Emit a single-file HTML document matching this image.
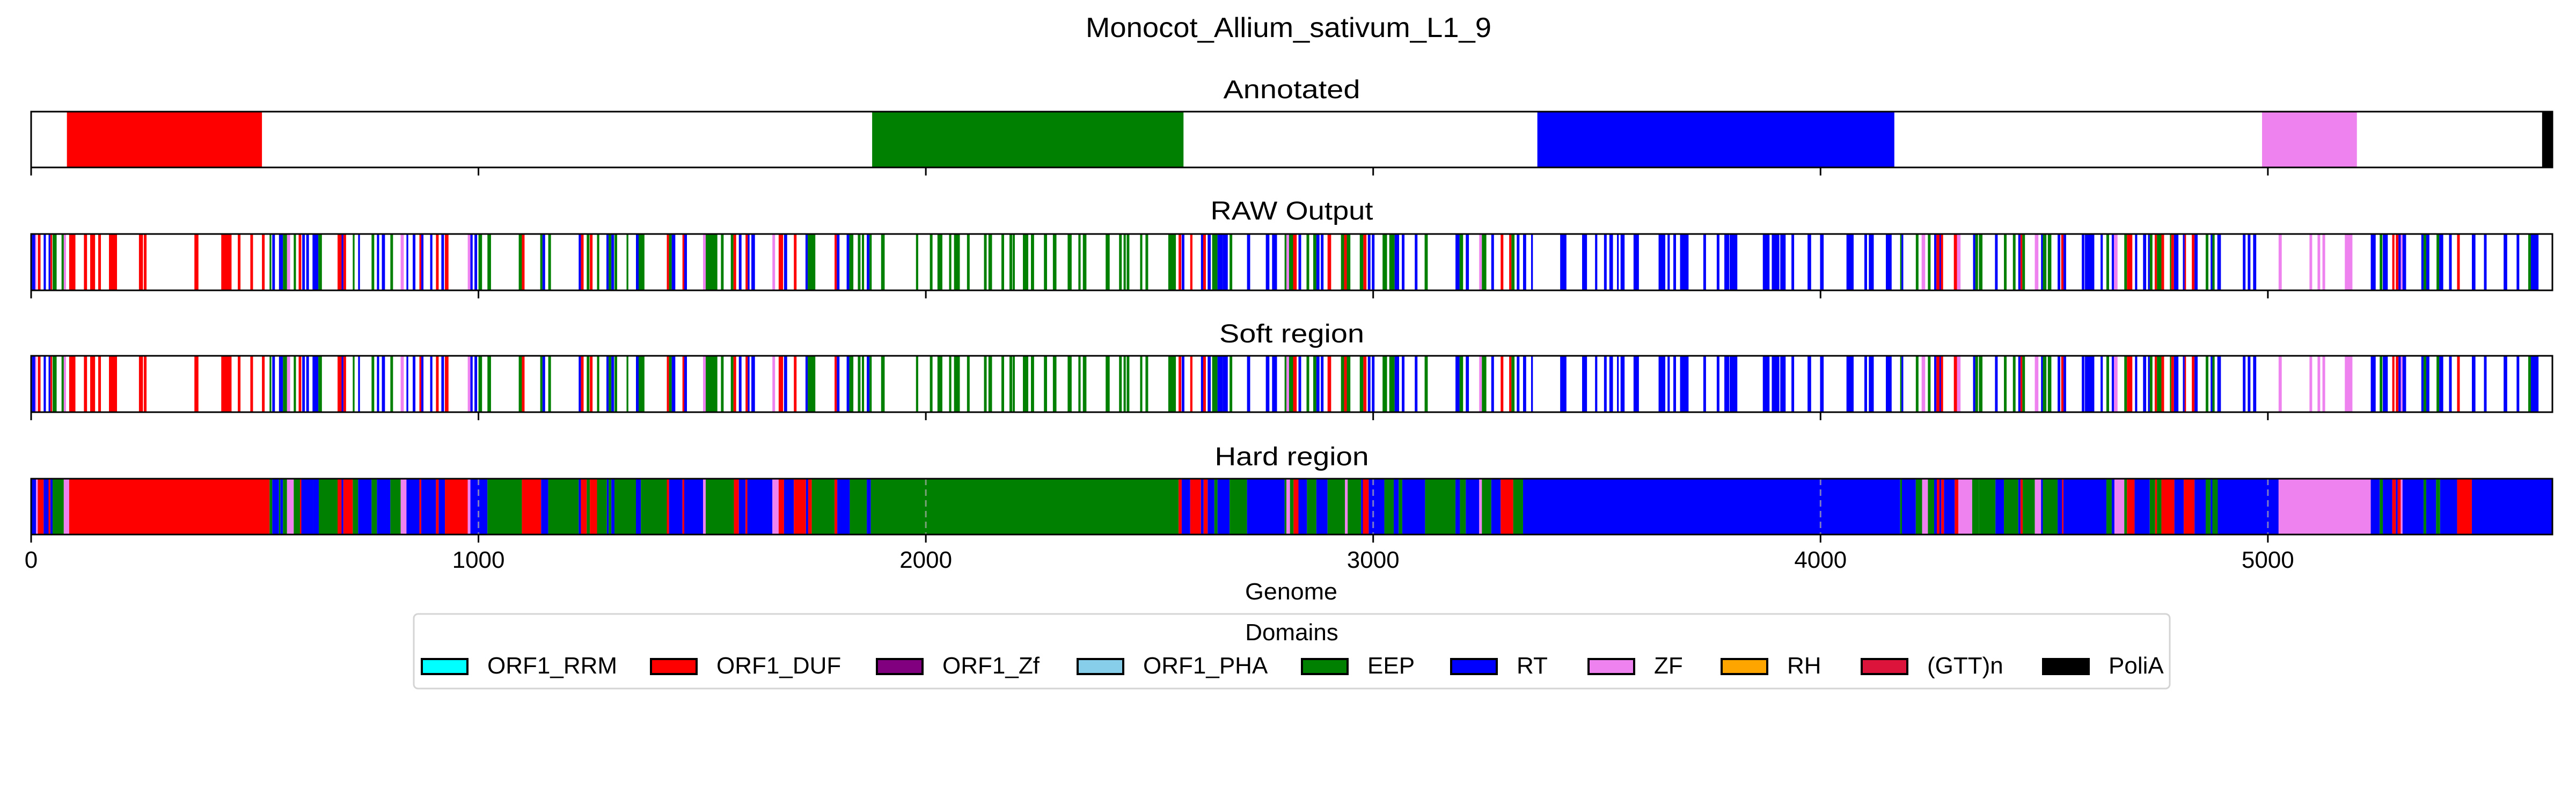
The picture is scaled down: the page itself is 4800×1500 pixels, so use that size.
<!DOCTYPE html>
<html><head><meta charset="utf-8"><title>Monocot_Allium_sativum_L1_9</title>
<style>html,body{margin:0;padding:0;background:#fff}svg{display:block}text{font-family:"Liberation Sans",sans-serif;fill:#000}</style>
</head><body>
<svg id="chart" width="4800" height="1500" viewBox="0 0 4800 1500" xmlns="http://www.w3.org/2000/svg">
<rect width="4800" height="1500" fill="#fff"/>
<text x="2401" y="69" font-size="52" text-anchor="middle" textLength="756" lengthAdjust="spacingAndGlyphs">Monocot_Allium_sativum_L1_9</text>
<g id="plots"></g>
<text x="2406" y="1117" font-size="44" text-anchor="middle" textLength="172" lengthAdjust="spacingAndGlyphs">Genome</text>
<g id="legend"></g>
</svg>
<script>
const domainNames = ["ORF1_RRM","ORF1_DUF","ORF1_Zf","ORF1_PHA","EEP","RT","ZF","RH","(GTT)n","PoliA"];
const domainColors = ["#00ffff","#ff0000","#800080","#87ceeb","#008000","#0000ff","#ee82ee","#ffa500","#dc143c","#000000"];
const xTicks = [0,1000,2000,3000,4000,5000];
const genomeLength = 5636;

const annotatedSegments = [[80,516,"ORF1_DUF"],[1880,2576,"EEP"],[3367,4165,"RT"],[4987,5199,"ZF"],[5613,5636,"PoliA"]];

const rawSegments = [
[2,9,"RT"],[9,12,"ZF"],[15,21,"ORF1_DUF"],[28,33,"RT"],[39,43,"RT"],[43,47,"ORF1_DUF"],[48,57,"EEP"],[68,73,"EEP"],[73,78,"ZF"],[85,99,"ORF1_DUF"],
[118,125,"ORF1_DUF"],[132,143,"ORF1_DUF"],[150,156,"ORF1_DUF"],[174,192,"ORF1_DUF"],[241,250,"ORF1_DUF"],[252,258,"ORF1_DUF"],[365,374,"ORF1_DUF"],[425,448,"ORF1_DUF"],[462,468,"ORF1_DUF"],[490,496,"ORF1_DUF"],
[516,522,"ORF1_DUF"],[533,537,"EEP"],[539,545,"RT"],[554,563,"RT"],[563,572,"EEP"],[572,579,"ZF"],[587,592,"EEP"],[598,604,"ORF1_DUF"],[606,612,"RT"],[615,621,"RT"],
[629,642,"RT"],[642,650,"EEP"],[685,694,"ORF1_DUF"],[694,698,"RT"],[698,704,"ORF1_DUF"],[719,723,"EEP"],[731,735,"RT"],[761,767,"EEP"],[773,778,"RT"],[784,791,"RT"],
[803,809,"EEP"],[826,833,"ZF"],[839,843,"RT"],[853,859,"RT"],[868,872,"ORF1_DUF"],[872,877,"RT"],[892,897,"RT"],[905,911,"ORF1_DUF"],[917,923,"RT"],[925,933,"ORF1_DUF"],
[976,982,"ZF"],[982,987,"RT"],[991,997,"RT"],[1000,1008,"EEP"],[1020,1028,"EEP"],[1090,1097,"EEP"],[1097,1103,"ORF1_DUF"],[1138,1143,"EEP"],[1143,1149,"RT"],[1156,1162,"EEP"],
[1224,1229,"RT"],[1229,1235,"ORF1_DUF"],[1242,1248,"EEP"],[1249,1255,"ORF1_DUF"],[1265,1270,"EEP"],[1286,1291,"RT"],[1291,1297,"EEP"],[1297,1303,"RT"],[1304,1310,"EEP"],[1331,1335,"EEP"],
[1352,1358,"RT"],[1358,1371,"EEP"],[1421,1426,"ORF1_DUF"],[1426,1432,"EEP"],[1432,1440,"RT"],[1456,1460,"ORF1_DUF"],[1460,1466,"RT"],[1502,1508,"ZF"],[1508,1534,"EEP"],[1542,1548,"EEP"],
[1564,1570,"EEP"],[1570,1576,"ORF1_DUF"],[1582,1588,"RT"],[1597,1602,"ORF1_DUF"],[1602,1606,"RT"],[1610,1618,"RT"],[1657,1663,"ZF"],[1671,1681,"ORF1_DUF"],[1683,1690,"RT"],[1705,1711,"ORF1_DUF"],
[1731,1736,"RT"],[1736,1753,"EEP"],[1796,1801,"ORF1_DUF"],[1801,1807,"RT"],[1823,1829,"RT"],[1829,1838,"EEP"],[1848,1854,"EEP"],[1857,1862,"EEP"],[1868,1874,"RT"],[1874,1879,"EEP"],
[1900,1908,"EEP"],[1978,1983,"EEP"],[2009,2015,"EEP"],[2026,2037,"EEP"],[2052,2057,"EEP"],[2063,2076,"EEP"],[2092,2098,"EEP"],[2130,2136,"EEP"],[2140,2148,"EEP"],[2169,2175,"EEP"],
[2187,2193,"EEP"],[2194,2199,"EEP"],[2217,2229,"EEP"],[2235,2242,"EEP"],[2264,2271,"EEP"],[2284,2292,"EEP"],[2317,2326,"EEP"],[2341,2346,"EEP"],[2351,2359,"EEP"],[2402,2411,"EEP"],
[2432,2438,"EEP"],[2442,2447,"EEP"],[2449,2455,"EEP"],[2479,2484,"EEP"],[2491,2497,"EEP"],[2542,2559,"EEP"],[2565,2571,"ORF1_DUF"],[2572,2578,"RT"],[2591,2596,"ORF1_DUF"],[2615,2620,"RT"],
[2620,2626,"ORF1_DUF"],[2630,2637,"RT"],[2640,2652,"EEP"],[2652,2664,"RT"],[2664,2675,"RT"],[2679,2685,"EEP"],[2718,2725,"RT"],[2760,2768,"RT"],[2774,2785,"RT"],[2802,2806,"EEP"],
[2806,2812,"ZF"],[2812,2821,"EEP"],[2821,2829,"ORF1_DUF"],[2833,2839,"RT"],[2851,2857,"EEP"],[2866,2873,"EEP"],[2873,2880,"RT"],[2883,2889,"RT"],[2898,2906,"ORF1_DUF"],[2928,2935,"EEP"],
[2935,2941,"ORF1_DUF"],[2941,2949,"EEP"],[2970,2978,"EEP"],[2978,2985,"ORF1_DUF"],[2988,2994,"RT"],[2997,3003,"RT"],[3021,3031,"EEP"],[3036,3048,"EEP"],[3048,3058,"RT"],[3064,3070,"RT"],
[3093,3099,"RT"],[3115,3122,"EEP"],[3184,3193,"RT"],[3193,3201,"EEP"],[3207,3214,"RT"],[3237,3243,"ZF"],[3243,3253,"EEP"],[3264,3270,"RT"],[3285,3291,"ORF1_DUF"],[3304,3309,"ORF1_DUF"],
[3309,3316,"EEP"],[3321,3327,"RT"],[3335,3342,"RT"],[3353,3357,"RT"],[3418,3432,"RT"],[3467,3478,"RT"],[3496,3501,"RT"],[3516,3522,"RT"],[3528,3536,"RT"],[3545,3549,"RT"],
[3553,3562,"RT"],[3582,3594,"RT"],[3638,3653,"RT"],[3658,3663,"RT"],[3671,3677,"RT"],[3686,3705,"RT"],[3738,3744,"RT"],[3768,3774,"RT"],[3785,3796,"RT"],[3797,3814,"RT"],
[3871,3886,"RT"],[3891,3908,"RT"],[3910,3922,"RT"],[3935,3941,"RT"],[3971,3979,"RT"],[3999,4007,"RT"],[4058,4074,"RT"],[4098,4104,"RT"],[4108,4119,"RT"],[4146,4159,"RT"],
[4178,4181,"EEP"],[4181,4185,"RT"],[4213,4219,"EEP"],[4226,4234,"ZF"],[4240,4246,"EEP"],[4254,4259,"RT"],[4259,4266,"ORF1_DUF"],[4266,4269,"RT"],[4269,4274,"ORF1_DUF"],[4298,4305,"ORF1_DUF"],
[4305,4313,"ZF"],[4341,4346,"RT"],[4346,4352,"EEP"],[4354,4362,"EEP"],[4390,4396,"RT"],[4410,4416,"EEP"],[4430,4436,"EEP"],[4442,4447,"RT"],[4447,4451,"ORF1_DUF"],[4451,4457,"EEP"],
[4479,4487,"ZF"],[4493,4497,"RT"],[4497,4505,"EEP"],[4508,4516,"EEP"],[4530,4536,"RT"],[4538,4543,"ORF1_DUF"],[4543,4549,"RT"],[4584,4590,"RT"],[4591,4612,"RT"],[4626,4631,"RT"],
[4639,4645,"EEP"],[4651,4656,"RT"],[4656,4664,"ZF"],[4679,4685,"EEP"],[4685,4697,"ORF1_DUF"],[4703,4708,"RT"],[4721,4728,"RT"],[4732,4736,"RT"],[4736,4742,"EEP"],[4747,4752,"ORF1_DUF"],
[4752,4762,"EEP"],[4762,4768,"ORF1_DUF"],[4781,4784,"EEP"],[4784,4790,"ORF1_DUF"],[4790,4800,"RT"],[4810,4814,"RT"],[4814,4817,"ORF1_DUF"],[4830,4836,"ORF1_DUF"],[4836,4843,"RT"],[4861,4867,"EEP"],
[4872,4876,"RT"],[4876,4881,"EEP"],[4887,4895,"RT"],[4944,4950,"RT"],[4955,4961,"RT"],[4967,4974,"RT"],[5024,5031,"ZF"],[5093,5099,"ZF"],[5111,5117,"ZF"],[5122,5128,"ZF"],
[5172,5189,"ZF"],[5230,5241,"RT"],[5250,5256,"EEP"],[5257,5268,"RT"],[5278,5283,"ORF1_DUF"],[5286,5292,"ORF1_DUF"],[5292,5297,"RT"],[5297,5301,"ZF"],[5301,5309,"RT"],[5343,5348,"RT"],
[5348,5354,"EEP"],[5354,5361,"RT"],[5377,5383,"EEP"],[5383,5392,"RT"],[5405,5411,"RT"],[5423,5429,"ORF1_DUF"],[5456,5464,"RT"],[5483,5489,"RT"],[5527,5535,"RT"],[5556,5562,"RT"],
[5582,5588,"EEP"],[5588,5605,"RT"]
];

const softSegments = rawSegments.slice();

const hardSegments = [
[0,11,"RT"],[11,15,"ZF"],[15,28,"ORF1_DUF"],[28,39,"RT"],[39,43,"ORF1_DUF"],[43,48,"RT"],[48,73,"EEP"],[73,85,"ZF"],[85,533,"ORF1_DUF"],[533,539,"EEP"],
[539,554,"RT"],[554,557,"EEP"],[557,563,"RT"],[563,572,"EEP"],[572,587,"ZF"],[587,601,"EEP"],[601,604,"ORF1_DUF"],[604,631,"RT"],[631,643,"RT"],[643,685,"EEP"],
[685,694,"ORF1_DUF"],[694,698,"RT"],[698,719,"ORF1_DUF"],[719,731,"EEP"],[731,761,"RT"],[761,773,"EEP"],[773,803,"RT"],[803,826,"EEP"],[826,839,"ZF"],[839,868,"RT"],
[868,872,"ORF1_DUF"],[872,905,"RT"],[905,911,"ORF1_DUF"],[911,925,"RT"],[925,976,"ORF1_DUF"],[976,982,"ZF"],[982,1020,"RT"],[1020,1097,"EEP"],[1097,1140,"ORF1_DUF"],[1140,1156,"RT"],
[1156,1224,"EEP"],[1224,1229,"RT"],[1229,1242,"ORF1_DUF"],[1242,1249,"EEP"],[1249,1265,"ORF1_DUF"],[1265,1287,"EEP"],[1287,1291,"RT"],[1291,1297,"EEP"],[1297,1304,"RT"],[1304,1352,"EEP"],
[1352,1363,"RT"],[1363,1421,"EEP"],[1421,1426,"ORF1_DUF"],[1426,1456,"RT"],[1456,1460,"ORF1_DUF"],[1460,1502,"RT"],[1502,1508,"ZF"],[1508,1571,"EEP"],[1571,1582,"ORF1_DUF"],[1582,1597,"RT"],
[1597,1601,"ORF1_DUF"],[1601,1657,"RT"],[1657,1671,"ZF"],[1671,1683,"ORF1_DUF"],[1683,1705,"RT"],[1705,1732,"ORF1_DUF"],[1732,1737,"RT"],[1737,1745,"ORF1_DUF"],[1745,1796,"EEP"],[1796,1802,"ORF1_DUF"],
[1802,1830,"RT"],[1830,1868,"EEP"],[1868,1877,"RT"],[1877,2565,"EEP"],[2565,2572,"ORF1_DUF"],[2572,2591,"RT"],[2591,2615,"ORF1_DUF"],[2615,2621,"RT"],[2621,2630,"ORF1_DUF"],[2630,2645,"RT"],
[2645,2652,"EEP"],[2652,2679,"RT"],[2679,2718,"EEP"],[2718,2802,"RT"],[2802,2806,"EEP"],[2806,2814,"ZF"],[2814,2822,"EEP"],[2822,2833,"ORF1_DUF"],[2833,2852,"RT"],[2852,2873,"EEP"],
[2873,2898,"RT"],[2898,2937,"EEP"],[2937,2943,"ZF"],[2943,2973,"EEP"],[2973,2977,"RT"],[2977,2990,"ORF1_DUF"],[2990,3025,"RT"],[3025,3046,"EEP"],[3046,3057,"RT"],[3057,3065,"EEP"],
[3065,3116,"RT"],[3116,3184,"EEP"],[3184,3194,"RT"],[3194,3207,"EEP"],[3207,3237,"RT"],[3237,3243,"ZF"],[3243,3264,"EEP"],[3264,3285,"RT"],[3285,3313,"ORF1_DUF"],[3313,3335,"EEP"],
[3335,4178,"RT"],[4178,4182,"EEP"],[4182,4213,"RT"],[4213,4227,"EEP"],[4227,4240,"ZF"],[4240,4254,"EEP"],[4254,4260,"RT"],[4260,4266,"ORF1_DUF"],[4266,4270,"RT"],[4270,4276,"ORF1_DUF"],
[4276,4300,"RT"],[4300,4308,"ORF1_DUF"],[4308,4339,"ZF"],[4339,4354,"EEP"],[4354,4391,"EEP"],[4391,4410,"RT"],[4410,4442,"EEP"],[4442,4447,"RT"],[4447,4452,"ORF1_DUF"],[4452,4479,"EEP"],
[4479,4493,"ZF"],[4493,4497,"RT"],[4497,4530,"EEP"],[4530,4540,"RT"],[4540,4543,"ORF1_DUF"],[4543,4639,"RT"],[4639,4651,"EEP"],[4651,4657,"RT"],[4657,4679,"ZF"],[4679,4685,"EEP"],
[4685,4702,"ORF1_DUF"],[4702,4736,"RT"],[4736,4748,"EEP"],[4748,4752,"ORF1_DUF"],[4752,4762,"EEP"],[4762,4791,"ORF1_DUF"],[4791,4812,"RT"],[4812,4836,"ORF1_DUF"],[4836,4861,"RT"],[4861,4872,"EEP"],
[4872,4876,"RT"],[4876,4888,"EEP"],[4888,5024,"RT"],[5024,5230,"ZF"],[5230,5250,"RT"],[5250,5257,"EEP"],[5257,5278,"RT"],[5278,5286,"ORF1_DUF"],[5286,5290,"RT"],[5290,5297,"ORF1_DUF"],
[5297,5301,"ZF"],[5301,5348,"RT"],[5348,5354,"EEP"],[5354,5376,"RT"],[5376,5385,"EEP"],[5385,5423,"RT"],[5423,5456,"ORF1_DUF"],[5456,5636,"RT"]
];

const NS = "http://www.w3.org/2000/svg";
const plotLeft = 58, plotRight = 4756;
function xScale(v){ return plotLeft + (v / genomeLength) * (plotRight - plotLeft); }
function colorOf(name){ return domainColors[domainNames.indexOf(name)]; }
function mk(tag, attrs, parent){ const e = document.createElementNS(NS, tag); for (const k in attrs) e.setAttribute(k, attrs[k]); parent.appendChild(e); return e; }

const panels = [
  {title:"Annotated", slug:"annotated", segs:annotatedSegments, top:208, bottom:312, titleY:183, tw:255, grid:false},
  {title:"RAW Output", slug:"raw-output", segs:rawSegments, top:436, bottom:541, titleY:409, tw:303, grid:false},
  {title:"Soft region", slug:"soft-region", segs:softSegments, top:663, bottom:768, titleY:638, tw:270, grid:false},
  {title:"Hard region", slug:"hard-region", segs:hardSegments, top:892, bottom:996, titleY:867, tw:287, grid:true}
];
const plots = document.getElementById('plots');
panels.forEach(p => {
  const g = mk('g', {}, plots);
  
  
  const t = mk('text', {x:2407, y:p.titleY, 'font-size':48, 'text-anchor':'middle', textLength:p.tw, lengthAdjust:'spacingAndGlyphs'}, g);
  t.textContent = p.title;
  
  
  p.segs.forEach((s, i) => {
    const x0 = xScale(s[0]), x1 = xScale(s[1]);
    const r = mk('rect', {x:x0, y:p.top, width:Math.max(x1 - x0, 1.5), height:p.bottom - p.top, fill:colorOf(s[2])}, g);
    
    
  });
  if (p.grid) {
    xTicks.forEach(v => {
      const l = mk('line', {x1:xScale(v), x2:xScale(v), y1:p.top, y2:p.bottom, stroke:'#b0b0b0', 'stroke-width':3, 'stroke-dasharray':'12 8', opacity:0.7}, g);
      
      
    });
  }
  const frame = mk('rect', {x:plotLeft, y:p.top, width:plotRight - plotLeft, height:p.bottom - p.top, fill:'none', stroke:'#000', 'stroke-width':3}, g);
  
  
  xTicks.forEach(v => {
    const tk = mk('line', {x1:xScale(v), x2:xScale(v), y1:p.bottom, y2:p.bottom + 15, stroke:'#000', 'stroke-width':3}, g);
    
    
    if (p.slug === 'hard-region') {
      const lb = mk('text', {x:xScale(v), y:1058, 'font-size':44, 'text-anchor':'middle'}, g);
      lb.textContent = String(v);
      
      
    }
  });
});

const legendPatchX = [786,1213,1634,2008,2426,2704,2960,3208,3469,3807];
const legend = document.getElementById('legend');
const box = mk('rect', {x:771, y:1144, width:3272, height:139, rx:8, fill:'#fff', stroke:'#d4d4d4', 'stroke-width':3}, legend);


const lt = mk('text', {x:2407, y:1193, 'font-size':44, 'text-anchor':'middle'}, legend);
lt.textContent = 'Domains';


domainNames.forEach((n, i) => {
  const px = legendPatchX[i];
  const pr = mk('rect', {x:px, y:1228, width:85, height:28, fill:domainColors[i], stroke:'#000', 'stroke-width':4}, legend);
  
  
  const tx = mk('text', {x:px + 122, y:1255, 'font-size':44}, legend);
  tx.textContent = n;
  
  
});
</script>
</body></html>
